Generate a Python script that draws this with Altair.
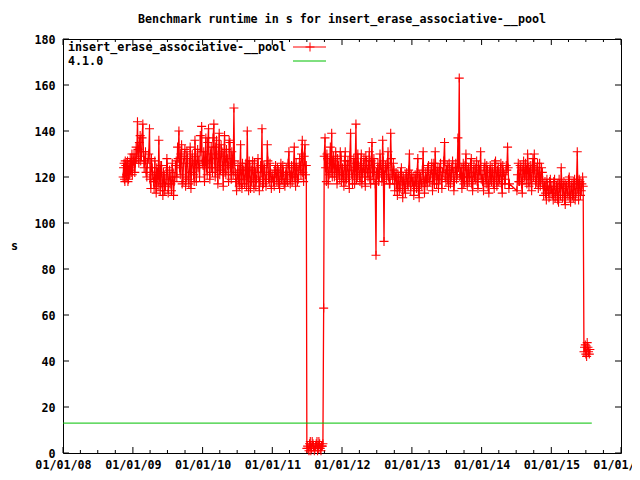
import altair as alt
import pandas as pd

TITLE = "Benchmark runtime in s for insert_erase_associative-__pool"
SERIES = "insert_erase_associative-__pool"
VERSION = "4.1.0"

# day-of-year of the benchmark runs (two runs a week)
weekly_days = [4, 11, 18, 25, 32, 39, 46, 53, 60, 67, 74, 81, 88, 95, 102, 109,
               116, 123, 130, 137, 144, 151, 158, 165, 172, 179, 186, 193, 200,
               207, 214, 221, 228, 235, 242, 249, 256, 263, 270, 277, 284, 291,
               298, 305, 312, 319, 326, 333, 340, 347, 354, 361]
midweek_days = [7, 14, 21, 28, 35, 42, 49, 56, 63, 70, 77, 84, 91, 98, 105, 112,
                119, 126, 133, 140, 147, 154, 161, 168, 175, 182, 189, 196, 203,
                210, 217, 224, 231, 238, 245, 252, 259, 266, 273, 280, 287, 294,
                301, 308, 315, 322, 329, 336, 343, 350, 357, 364]

days_2008 = [316, 321, 325, 330, 334, 339, 344, 348, 353, 358, 362]
runtime_2008 = [120, 126, 118, 125, 121, 127, 119, 124, 128, 122, 130]
days_2008_b = [318, 323, 327, 332, 336, 341, 346, 350, 355, 360, 364]
runtime_2008_b = [124, 119, 127, 120, 126, 118, 125, 121, 123, 127, 121]

runtime_2009 = [127, 122, 133, 144, 126, 138, 129, 143, 124, 131,
                120, 128, 141, 115, 124, 118, 127, 113, 122, 136,
                114, 125, 112, 121, 116, 128, 113, 123, 117, 126,
                112, 120, 127, 133, 140, 121, 134, 118, 129, 116,
                131, 119, 126, 115, 130, 121, 136, 118, 132, 124,
                138, 142]
runtime_2009_b = [130, 126, 128, 132, 135, 127, 137, 131, 127, 122,
                  126, 130, 119, 128, 121, 115, 119, 124, 116, 120,
                  125, 117, 122, 114, 119, 124, 117, 120, 114, 122,
                  118, 125, 120, 128, 124, 130, 117, 126, 132, 120,
                  128, 117, 133, 122, 127, 118, 129, 124, 127, 120,
                  131, 126]

runtime_2010 = [125, 118, 137, 121, 141, 119, 133, 122, 143, 120,
                136, 117, 139, 123, 131, 116, 138, 121, 128, 118,
                135, 119, 126, 150, 122, 114, 125, 116, 134, 115,
                123, 117, 126, 140, 114, 124, 118, 127, 115, 122,
                119, 128, 114, 125, 141, 117, 124, 116, 134, 119,
                126, 115]
runtime_2010_b = [131, 127, 124, 135, 126, 130, 124, 137, 128, 133,
                  124, 130, 121, 134, 125, 129, 122, 132, 125, 136,
                  124, 131, 121, 127, 118, 121, 119, 123, 117, 126,
                  119, 124, 116, 120, 127, 115, 123, 118, 126, 116,
                  124, 120, 118, 122, 116, 125, 119, 121, 127, 118,
                  122, 120]

runtime_2011 = [121, 116, 125, 118, 123, 115, 126, 119, 122, 116,
                124, 118, 131, 117, 125, 120, 133, 116, 124, 119,
                128, 121, 136, 118, 134, 125,
                3, 1, 5, 2, 4, 1, 3, 5, 2, 4, 1, 3,
                63,
                137, 118, 128, 121, 133, 139, 127, 120, 131, 117,
                125, 119, 129]
runtime_2011_b = [118, 123, 120, 124, 117, 122, 119, 125, 117, 121,
                  119, 126, 122, 121, 118, 124, 120, 126, 118, 123,
                  125, 130, 122, 129, 121, 2,
                  2, 4, 1, 5, 3, 2, 4, 1, 5, 2, 3, 4,
                  129,
                  124, 130, 117, 126, 122, 120, 129, 124, 122, 128,
                  121, 131, 118]

runtime_2012 = [124, 116, 131, 119, 127, 115, 139, 121, 126, 117,
                143, 120, 125, 118, 130, 122, 128, 116, 127, 120,
                131, 117, 135, 119, 124, 86, 121, 118, 130, 122,
                136, 92, 125, 119, 131, 117, 139, 121, 126, 114,
                122, 112, 120, 115, 124, 111, 119, 113, 122, 116,
                130, 114]
runtime_2012_b = [121, 127, 118, 125, 120, 129, 123, 117, 128, 124,
                  119, 130, 121, 126, 117, 124, 120, 129, 122, 125,
                  119, 127, 122, 128, 117, 122, 126, 120, 125, 118,
                  127, 121, 124, 126, 120, 117, 128, 119, 123, 120,
                  117, 121, 114, 122, 118, 120, 115, 121, 117, 123,
                  118, 121]

runtime_2013 = [118, 112, 121, 115, 128, 111, 120, 116, 131, 113,
                122, 116, 125, 118, 123, 114, 126, 131, 117, 124,
                119, 126, 115, 122, 135, 118, 125, 116, 123, 120,
                127, 114, 124, 119, 137, 163, 121, 115, 126, 118,
                130, 116, 124, 120, 128, 114, 125, 119, 127, 115,
                123, 131]
runtime_2013_b = [120, 116, 118, 122, 114, 121, 117, 123, 119, 118,
                  119, 124, 118, 121, 126, 120, 117, 123, 121, 115,
                  124, 119, 122, 127, 120, 123, 119, 126, 117, 124,
                  122, 118, 126, 121, 124, 120, 124, 120, 117, 125,
                  120, 123, 118, 126, 117, 122, 120, 124, 118, 125,
                  121, 119]

days_2014 = [4, 11, 18, 25, 32, 39, 46, 53, 60, 67, 74, 81, 88, 95, 102, 109,
             116, 123, 130, 137, 144,
             186, 193, 200, 207, 214, 221, 228, 235, 242, 249, 256, 263, 270,
             277, 284, 291, 298, 305, 312, 319, 326, 333, 340, 347, 354, 361]
runtime_2014 = [121, 114, 126, 117, 123, 113, 125, 118, 122, 115,
                127, 116, 124, 119, 126, 113, 122, 117, 125, 133, 115,
                114, 126, 118, 124, 113, 127, 119, 123, 130, 116,
                125, 114, 128, 130, 117, 124, 115, 126, 119, 122,
                112, 118, 110, 116, 111, 119]
days_2014_b = [7, 14, 21, 28, 35, 42, 49, 56, 63, 70, 77, 84, 91, 98, 105, 112,
               119, 126, 133, 140, 147,
               189, 196, 203, 210, 217, 224, 231, 238, 245, 252, 259, 266, 273,
               280, 287, 294, 301, 308, 315, 322, 329, 336, 343, 350, 357, 364]
runtime_2014_b = [118, 124, 120, 125, 116, 122, 119, 124, 117, 126,
                  120, 123, 118, 122, 117, 125, 121, 119, 123, 124, 117,
                  121, 118, 125, 117, 123, 120, 126, 117, 124, 122,
                  119, 125, 120, 123, 118, 126, 120, 116, 124, 117,
                  116, 113, 119, 114, 118, 113]

days_2015 = [4, 11, 18, 25, 32, 39, 46, 53, 60, 67, 74, 81, 88, 95, 102, 109,
             116, 123, 130, 137, 144, 151, 158, 165, 172, 179, 186, 193, 200]
runtime_2015 = [116, 110, 119, 112, 117, 109, 115, 124, 111, 118,
                108, 116, 112, 120, 109, 117, 111, 119, 113, 131,
                110, 118, 114, 120, 44, 47, 42, 46, 43]
days_2015_b = [7, 14, 21, 28, 35, 42, 49, 56, 63, 70, 77, 84, 91, 98, 105, 112,
               119, 126, 133, 140, 147, 154, 161, 168, 175, 182, 189, 196, 203]
runtime_2015_b = [113, 118, 111, 116, 110, 119, 112, 117, 115, 110,
                  117, 113, 119, 111, 116, 112, 118, 110, 117, 115,
                  119, 112, 117, 116, 46, 43, 48, 44, 45]

version_dates = ["2008-01-01", "2015-08-01"]
version_values = [13, 13]

year_ticks = ["2008-01-01", "2009-01-01", "2010-01-01", "2011-01-01", "2012-01-01",
              "2013-01-01", "2014-01-01", "2015-01-01", "2016-01-01"]
quarter_months = ["04-01", "07-01", "10-01"]
y_ticks = [0, 20, 40, 60, 80, 100, 120, 140, 160, 180]

# ---------------------------------------------------------------- tables
years_data = [
    (2008, days_2008, runtime_2008), (2008, days_2008_b, runtime_2008_b),
    (2009, weekly_days, runtime_2009), (2009, midweek_days, runtime_2009_b),
    (2010, weekly_days, runtime_2010), (2010, midweek_days, runtime_2010_b),
    (2011, weekly_days, runtime_2011), (2011, midweek_days, runtime_2011_b),
    (2012, weekly_days, runtime_2012), (2012, midweek_days, runtime_2012_b),
    (2013, weekly_days, runtime_2013), (2013, midweek_days, runtime_2013_b),
    (2014, days_2014, runtime_2014), (2014, days_2014_b, runtime_2014_b),
    (2015, days_2015, runtime_2015), (2015, days_2015_b, runtime_2015_b),
]
rows = []
for yr, dd, vv in years_data:
    for d, v in zip(dd, vv):
        when = pd.Timestamp(yr, 1, 1) + pd.Timedelta(days=d - 1)
        rows.append({"date": when.strftime("%Y-%m-%d"), "value": v})
series_df = pd.DataFrame(rows).sort_values("date").reset_index(drop=True)
version_df = pd.DataFrame({"date": version_dates, "value": version_values})
major_df = pd.DataFrame({"date": year_ticks})
minor_df = pd.DataFrame({"date": [f"{y}-{m}" for y in range(2008, 2016) for m in quarter_months]})
ytick_df = pd.DataFrame({"value": y_ticks})
one = pd.DataFrame({"k": [0]})

W, H = 558, 414
FONT = "DejaVu Sans Mono"
FS = 11.7
RED = "#ff0000"
GREEN = "#00c000"
CROSS = "M-1,0L1,0M0,-1L0,1"


def dt(s):
    y, m, d = (int(p) for p in s.split("-"))
    return alt.DateTime(year=y, month=m, date=d, utc=True)


x_scale = alt.Scale(type="utc", domain=[dt(year_ticks[0]), dt(year_ticks[-1])])
y_scale = alt.Scale(domain=[0, 180], nice=False, zero=True)
x_axis = alt.Axis(values=[dt(s) for s in year_ticks], format="%m/%d/%y",
                  domain=False, ticks=False, grid=False, labelPadding=6,
                  labelFont=FONT, labelFontWeight="bold", labelFontSize=FS,
                  labelColor="black", labelOverlap=False, labelFlush=False,
                  labelBound=False, title=None)
y_axis = alt.Axis(values=y_ticks, domain=False, ticks=False, grid=False,
                  labelPadding=8, labelFont=FONT, labelFontWeight="bold",
                  labelFontSize=FS, labelColor="black", title="s",
                  titleAngle=0, titleX=-49, titleY=206, titleAlign="center",
                  titleBaseline="middle", titleFont=FONT, titleFontWeight="bold",
                  titleFontSize=FS, titleColor="black")


def X():
    return alt.X("date:T", scale=x_scale, axis=x_axis)


def Y():
    return alt.Y("value:Q", scale=y_scale, axis=y_axis)


major_bottom = alt.Chart(major_df).mark_rule(color="black", strokeWidth=1).encode(
    x=X(), y=alt.value(H), y2=alt.value(H - 6))
major_top = alt.Chart(major_df).mark_rule(color="black", strokeWidth=1).encode(
    x=X(), y=alt.value(0), y2=alt.value(6))
minor_bottom = alt.Chart(minor_df).mark_rule(color="black", strokeWidth=1).encode(
    x=X(), y=alt.value(H), y2=alt.value(H - 3))
minor_top = alt.Chart(minor_df).mark_rule(color="black", strokeWidth=1).encode(
    x=X(), y=alt.value(0), y2=alt.value(3))
ytick_left = alt.Chart(ytick_df).mark_rule(color="black", strokeWidth=1).encode(
    y=Y(), x=alt.value(0), x2=alt.value(6))
ytick_right = alt.Chart(ytick_df).mark_rule(color="black", strokeWidth=1).encode(
    y=Y(), x=alt.value(W), x2=alt.value(W - 6))

series_line = alt.Chart(series_df).mark_line(color=RED, strokeWidth=1.3).encode(
    x=X(), y=Y())
series_pts = alt.Chart(series_df).mark_point(
    shape=CROSS, filled=False, color=RED, strokeWidth=1.1, size=81, opacity=1
).encode(x=X(), y=Y())
version_line = alt.Chart(version_df).mark_line(color=GREEN, strokeWidth=1).encode(
    x=X(), y=Y())

title_txt = alt.Chart(one).mark_text(
    font=FONT, fontWeight="bold", fontSize=FS, color="black",
    align="center", baseline="middle").encode(
    x=alt.value(W / 2), y=alt.value(-20), text=alt.value(TITLE))
leg1_txt = alt.Chart(one).mark_text(
    font=FONT, fontWeight="bold", fontSize=FS, color="black",
    align="left", baseline="middle").encode(
    x=alt.value(5), y=alt.value(8), text=alt.value(SERIES))
leg2_txt = alt.Chart(one).mark_text(
    font=FONT, fontWeight="bold", fontSize=FS, color="black",
    align="left", baseline="middle").encode(
    x=alt.value(5), y=alt.value(22), text=alt.value(VERSION))
leg1_line = alt.Chart(one).mark_rule(color=RED, strokeWidth=1).encode(
    x=alt.value(230), x2=alt.value(263), y=alt.value(8))
leg1_pt = alt.Chart(one).mark_point(
    shape=CROSS, filled=False, color=RED, strokeWidth=1, size=81, opacity=1
).encode(x=alt.value(247), y=alt.value(8))
leg2_line = alt.Chart(one).mark_rule(color=GREEN, strokeWidth=1).encode(
    x=alt.value(230), x2=alt.value(263), y=alt.value(22))

chart = alt.layer(
    major_bottom, major_top, minor_bottom, minor_top, ytick_left, ytick_right,
    series_line, series_pts, version_line,
    leg1_txt, leg1_line, leg1_pt, leg2_txt, leg2_line, title_txt,
).properties(
    width=W, height=H,
    autosize=alt.AutoSizeParams(type="none"),
    padding={"left": 55, "top": 31, "right": 11, "bottom": 24},
    background="white",
).configure_view(stroke="black", strokeWidth=1)

chart.save("out.html", embed_options={"renderer": "svg", "actions": False})
